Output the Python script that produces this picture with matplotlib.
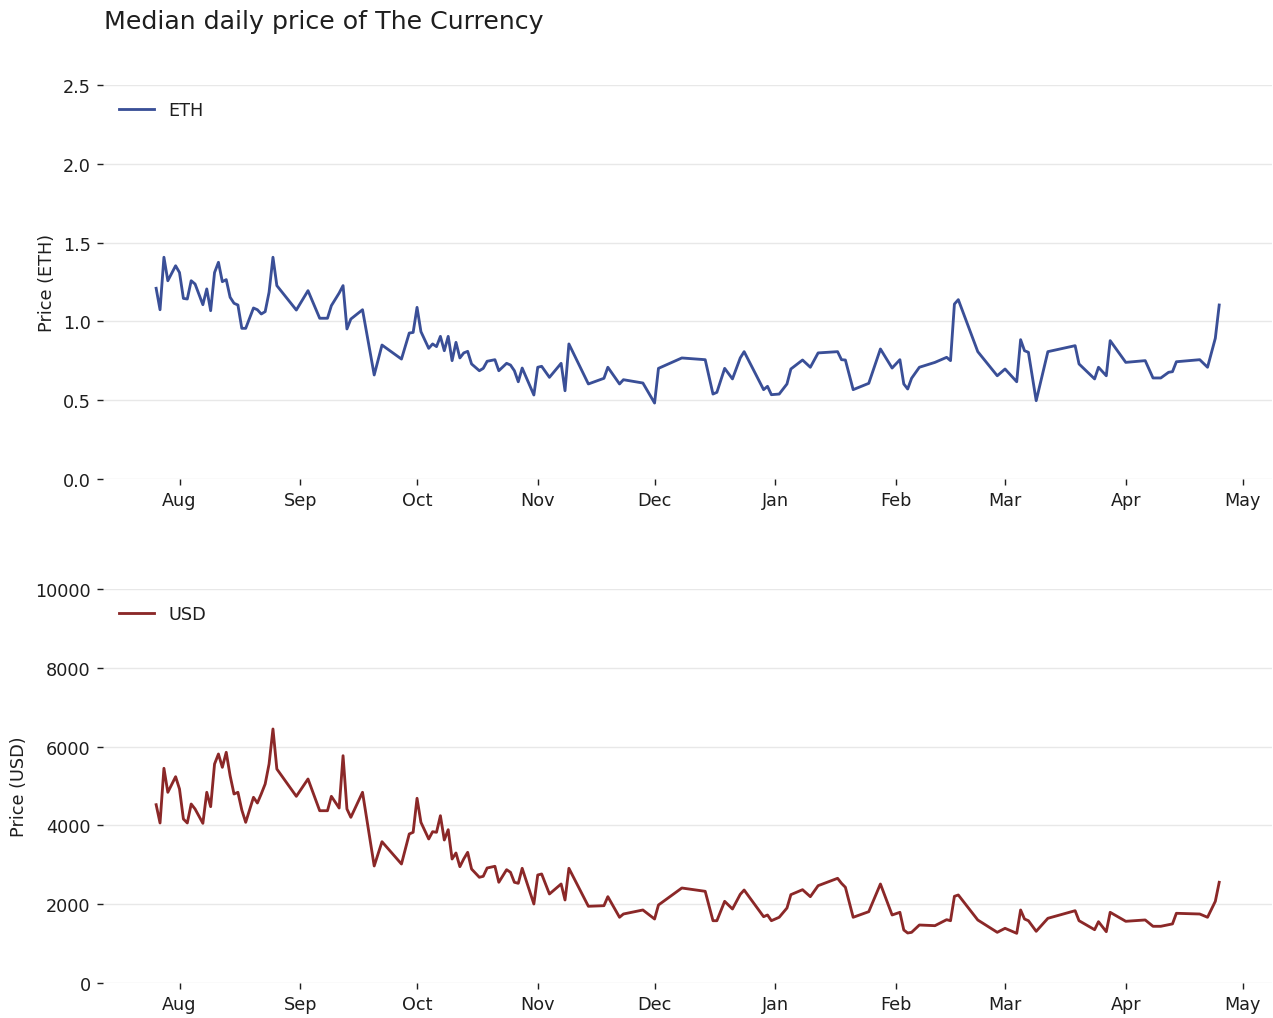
import matplotlib
matplotlib.use("Agg")
import matplotlib.pyplot as plt
import matplotlib.dates as mdates
import pandas as pd

# daily medians
dates = [
    "2021-07-26", "2021-07-27", "2021-07-28", "2021-07-29", "2021-07-31",
    "2021-08-01", "2021-08-02", "2021-08-03", "2021-08-04", "2021-08-05",
    "2021-08-07", "2021-08-08", "2021-08-09", "2021-08-10", "2021-08-11",
    "2021-08-12", "2021-08-13", "2021-08-14", "2021-08-15", "2021-08-16",
    "2021-08-17", "2021-08-18", "2021-08-20", "2021-08-21", "2021-08-22",
    "2021-08-23", "2021-08-24", "2021-08-25", "2021-08-26", "2021-08-31",
    "2021-09-03", "2021-09-06", "2021-09-08", "2021-09-09", "2021-09-11",
    "2021-09-12", "2021-09-13", "2021-09-14", "2021-09-17", "2021-09-20",
    "2021-09-22", "2021-09-27", "2021-09-29", "2021-09-30", "2021-10-01",
    "2021-10-02", "2021-10-04", "2021-10-05", "2021-10-06", "2021-10-07",
    "2021-10-08", "2021-10-09", "2021-10-10", "2021-10-11", "2021-10-12",
    "2021-10-13", "2021-10-14", "2021-10-15", "2021-10-17", "2021-10-18",
    "2021-10-19", "2021-10-21", "2021-10-22", "2021-10-24", "2021-10-25",
    "2021-10-26", "2021-10-27", "2021-10-28", "2021-10-31", "2021-11-01",
    "2021-11-02", "2021-11-04", "2021-11-07", "2021-11-08", "2021-11-09",
    "2021-11-14", "2021-11-18", "2021-11-19", "2021-11-22", "2021-11-23",
    "2021-11-28", "2021-12-01", "2021-12-02", "2021-12-08", "2021-12-14",
    "2021-12-16", "2021-12-17", "2021-12-19", "2021-12-21", "2021-12-23",
    "2021-12-24", "2021-12-29", "2021-12-30", "2021-12-31", "2022-01-02",
    "2022-01-04", "2022-01-05", "2022-01-08", "2022-01-10", "2022-01-12",
    "2022-01-17", "2022-01-18", "2022-01-19", "2022-01-21", "2022-01-25",
    "2022-01-28", "2022-01-31", "2022-02-02", "2022-02-03", "2022-02-04",
    "2022-02-05", "2022-02-07", "2022-02-11", "2022-02-14", "2022-02-15",
    "2022-02-16", "2022-02-17", "2022-02-22", "2022-02-27", "2022-03-01",
    "2022-03-04", "2022-03-05", "2022-03-06", "2022-03-07", "2022-03-09",
    "2022-03-12", "2022-03-19", "2022-03-20", "2022-03-24", "2022-03-25",
    "2022-03-27", "2022-03-28", "2022-04-01", "2022-04-06", "2022-04-08",
    "2022-04-10", "2022-04-12", "2022-04-13", "2022-04-14", "2022-04-20",
    "2022-04-22", "2022-04-24", "2022-04-25",
]

price_eth = [
    1.21, 1.074, 1.407, 1.258, 1.353,
    1.31, 1.146, 1.142, 1.258, 1.237,
    1.106, 1.206, 1.068, 1.31, 1.375,
    1.252, 1.265, 1.153, 1.115, 1.104,
    0.956, 0.956, 1.085, 1.074, 1.047,
    1.062, 1.185, 1.407, 1.227, 1.072,
    1.195, 1.02, 1.02, 1.10, 1.18,
    1.227, 0.952, 1.015, 1.074, 0.66,
    0.85, 0.761, 0.926, 0.93, 1.089,
    0.935, 0.829, 0.857, 0.84, 0.905,
    0.814, 0.905, 0.751, 0.867, 0.768,
    0.80, 0.81, 0.73, 0.687, 0.702,
    0.747, 0.757, 0.687, 0.734, 0.723,
    0.687, 0.617, 0.704, 0.533, 0.709,
    0.715, 0.645, 0.734, 0.56, 0.857,
    0.603, 0.639, 0.709, 0.603, 0.63,
    0.609, 0.482, 0.702, 0.768, 0.757,
    0.539, 0.55, 0.702, 0.635, 0.768,
    0.808, 0.567, 0.588, 0.535, 0.539,
    0.603, 0.698, 0.755, 0.709, 0.80,
    0.808, 0.757, 0.755, 0.567, 0.607,
    0.825, 0.704, 0.757, 0.603, 0.571,
    0.639, 0.709, 0.74, 0.772, 0.751,
    1.11, 1.138, 0.808, 0.655, 0.698,
    0.617, 0.884, 0.814, 0.804, 0.497,
    0.808, 0.846, 0.73, 0.635, 0.709,
    0.655, 0.878, 0.74, 0.751, 0.641,
    0.641, 0.677, 0.681, 0.744, 0.757,
    0.709, 0.893, 1.104,
]

price_usd = [
    4525, 4061, 5449, 4840, 5236,
    4924, 4162, 4061, 4543, 4416,
    4053, 4840, 4475, 5558, 5812,
    5474, 5855, 5261, 4797, 4840,
    4391, 4078, 4713, 4568, 4800,
    5051, 5558, 6447, 5431, 4738,
    5178, 4373, 4373, 4738, 4441,
    5769, 4416, 4205, 4840, 2970,
    3586, 3020, 3782, 3825, 4688,
    4078, 3655, 3840, 3825, 4246,
    3629, 3891, 3147, 3300, 2952,
    3150, 3317, 2893, 2683, 2708,
    2919, 2962, 2556, 2876, 2809,
    2556, 2530, 2911, 2005, 2741,
    2767, 2259, 2513, 2107, 2911,
    1947, 1962, 2191, 1668, 1751,
    1853, 1624, 1980, 2411, 2327,
    1581, 1581, 2073, 1878, 2250,
    2360, 1683, 1726, 1581, 1668,
    1903, 2242, 2368, 2191, 2470,
    2657, 2530, 2429, 1668, 1810,
    2513, 1726, 1794, 1345, 1269,
    1286, 1472, 1455, 1607, 1581,
    2200, 2234, 1599, 1286, 1388,
    1261, 1853, 1624, 1581, 1312,
    1642, 1835, 1581, 1353, 1556,
    1302, 1794, 1566, 1600, 1439,
    1439, 1480, 1500, 1769, 1751,
    1668, 2073, 2556,
]

series = [
    ("ETH", price_eth, "#3a4f97", (0, 2.5), [0, 0.5, 1.0, 1.5, 2.0, 2.5], "{:.1f}"),
    ("USD", price_usd, "#8b2828", (0, 10000), [0, 2000, 4000, 6000, 8000, 10000], "{:.0f}"),
]

DPI = 127.3
plt.rcParams["font.family"] = ["DejaVu Sans"]
plt.rcParams["font.size"] = 10
plt.rcParams["text.color"] = "#1e1e1e"
plt.rcParams["axes.labelcolor"] = "#1e1e1e"
plt.rcParams["xtick.color"] = "#1e1e1e"
plt.rcParams["ytick.color"] = "#1e1e1e"

x = pd.to_datetime(dates)

fig = plt.figure(figsize=(1273 / DPI, 1019 / DPI), dpi=DPI)
positions = [
    (0.0809, 0.52895, 0.9186, 0.38666),
    (0.0809, 0.03435, 0.9186, 0.38666),
]

for (name, values, color, ylim, yticks, fmt), pos in zip(series, positions):
    ax = fig.add_axes(pos)
    ax.plot(x, values, color=color, linewidth=1.6, label=name)
    ax.set_ylim(*ylim)
    ax.set_yticks(yticks)
    ax.set_yticklabels([fmt.format(v) for v in yticks])
    ax.set_ylabel(f"Price ({name})")
    ax.xaxis.set_major_locator(mdates.MonthLocator())
    ax.xaxis.set_major_formatter(mdates.DateFormatter("%b"))
    ax.grid(axis="y", color="#e8e8e8", linewidth=0.8)
    ax.set_axisbelow(True)
    for side in ("top", "right", "left", "bottom"):
        ax.spines[side].set_visible(False)
    ax.legend(loc="upper left", frameon=False)

fig.text(104 / 1273, 1 - 22 / 1019, "Median daily price of The Currency",
         fontsize=14.3, ha="left", va="center")

fig.savefig("out.png", dpi=DPI)
